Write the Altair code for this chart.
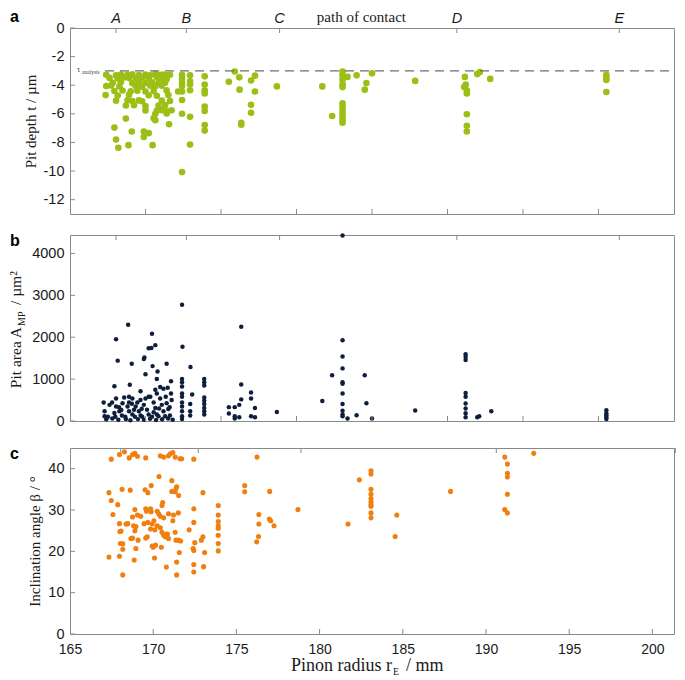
import altair as alt
import pandas as pd

# ---------------- data ----------------
# panel a: pit depth t (µm) vs pinion radius (mm)
depth_r = [
    167.40, 168.05, 168.37, 168.81, 169.13, 169.56, 170.00, 170.32, 170.65, 170.97, 171.19, 171.40, 171.62,
    167.62, 168.16, 168.59, 168.91, 169.35, 169.78, 170.21, 170.75, 171.08, 171.40,
    167.83, 168.37, 169.13, 169.56, 170.00, 170.43, 170.86, 171.30,
    167.40, 167.72, 168.27, 169.35, 169.78, 170.32, 170.65, 171.08,
    167.94, 168.48, 169.02, 169.46, 170.00, 170.54, 171.40,
    167.36, 168.16, 168.91, 170.21, 170.75, 171.51,
    168.05, 168.81, 169.13, 169.56, 169.78, 171.08, 171.62,
    168.70, 169.24, 170.00, 170.86, 171.30,
    170.00, 170.75, 171.08, 171.40, 171.73,
    170.65, 171.40, 168.70, 170.54, 170.65, 171.56, 167.94, 169.09, 169.89, 170.21, 169.89, 168.05, 168.87, 170.47, 168.20,
    172.42, 172.42, 172.42, 172.42, 172.42, 172.42, 172.42, 172.42, 172.16,
    172.95, 172.95, 172.95, 172.95, 172.95, 172.95,
    173.92, 173.92, 173.92, 173.92, 173.92, 173.92, 173.92, 173.92,
    175.52, 175.91, 176.21, 176.23, 176.34, 176.34, 176.99, 177.25, 177.25, 176.99, 176.99, 178.70,
    181.71, 182.36,
    183.05, 183.05, 183.05, 183.05, 183.05, 183.05, 183.05, 183.05, 183.05, 183.05, 183.05, 183.05,
    183.38, 183.98, 184.63, 184.52, 185.00, 187.86,
    191.15, 191.10, 191.21, 191.28, 191.28, 191.28, 191.28, 191.28, 191.97, 192.14, 192.83,
    200.52, 200.52, 200.52, 200.52,
]
depth_t = [
    -3.27, -3.30, -3.25, -3.28, -3.24, -3.29, -3.26, -3.31, -3.22, -3.28, -3.25, -3.30, -3.27,
    -3.49, -3.52, -3.46, -3.50, -3.55, -3.47, -3.51, -3.45, -3.53, -3.58,
    -3.83, -3.80, -3.86, -3.81, -3.85, -3.79, -3.84, -3.82,
    -4.06, -4.02, -4.08, -4.05, -4.10, -4.04, -4.07, -4.03,
    -4.40, -4.37, -4.42, -4.38, -4.44, -4.41, -4.36,
    -4.69, -4.72, -4.66, -4.70, -4.74, -4.68,
    -5.08, -5.05, -5.11, -5.06, -5.12, -5.07, -5.10,
    -5.42, -5.40, -5.45, -5.43, -5.39,
    -5.76, -5.78, -5.74, -5.80, -5.75,
    -5.99, -5.97, -6.33, -6.30, -6.44, -6.73, -6.96, -7.23, -7.23, -7.35, -7.62, -7.80, -8.19, -8.19, -8.37,
    -3.27, -3.54, -3.83, -4.06, -4.44, -5.03, -5.99, -10.07, -4.44,
    -3.31, -3.72, -3.95, -4.35, -6.21, -8.14,
    -3.38, -3.95, -4.35, -4.58, -5.49, -5.80, -6.78, -7.17,
    -3.76, -3.04, -3.45, -4.31, -6.62, -6.76, -3.67, -3.33, -4.44, -5.37, -5.92, -4.08,
    -4.08, -6.15,
    -3.04, -3.31, -3.61, -3.95, -4.13, -5.26, -5.49, -5.71, -5.99, -6.21, -6.44, -6.62,
    -3.42, -3.31, -3.85, -4.31, -3.17, -3.70,
    -3.42, -4.13, -3.95, -4.35, -4.58, -6.03, -6.83, -7.23, -3.22, -3.08, -3.56,
    -3.27, -3.45, -3.63, -4.47,
]

# panel b: pit area A_MP (µm²) vs pinion radius (mm)
area_r = [
    172.42, 168.85, 168.05, 170.43, 170.65, 170.21, 170.39, 172.45, 168.16, 169.09, 169.89, 169.93,
    171.40, 170.47, 170.80, 170.00, 172.98, 170.75,
    172.42, 172.42, 172.42, 172.42, 172.42, 172.42, 172.42, 172.42, 172.42, 172.42,
    173.89, 173.89, 173.89, 173.89, 173.89, 173.89, 173.89, 173.89, 173.89,
    167.94, 168.96, 169.67, 170.97, 171.47, 171.69, 170.65, 173.09, 172.96, 172.96, 172.96,
    167.23, 167.62, 167.29, 167.29, 168.05, 168.05, 167.94, 168.27, 168.48, 168.44, 168.81, 168.91,
    168.91, 169.13, 169.35, 169.46, 169.56, 169.67, 170.00, 169.89, 170.10, 170.21, 170.32, 170.54,
    170.65, 170.75, 170.97, 171.08, 171.19, 171.34, 171.40, 171.51, 171.62, 171.30, 170.86, 170.43,
    169.78, 169.30, 168.66, 168.00, 167.51, 167.79, 168.59, 169.13, 169.67, 171.73, 171.69, 170.75,
    171.19, 170.21, 169.24, 170.54, 168.91,
    167.40, 167.80, 168.20, 168.70, 169.00, 169.50, 169.90, 170.30, 170.70, 171.10, 171.50, 171.80,
    168.40, 169.75, 170.90, 171.60, 168.25, 169.10,
    175.52, 175.52, 175.91, 175.91, 175.91, 176.21, 176.21, 176.34, 176.34, 176.34,
    176.99, 176.99, 176.99, 177.25, 177.25, 178.70,
    181.71, 182.36,
    183.05, 183.05, 183.05, 183.05, 183.05, 183.05, 183.05, 183.05, 183.05, 183.05, 183.05,
    183.38, 183.98, 184.52, 184.63, 185.00, 187.86,
    191.20, 191.20, 191.20, 191.20, 191.20, 191.20, 191.20, 191.20, 191.20, 191.97, 192.10, 192.90,
    200.52, 200.52, 200.52, 200.52, 200.52,
]
area_a = [
    2775, 2297, 1950, 2081, 1811, 1734, 1740, 1773, 1441, 1364, 1480, 1518,
    1364, 1310, 1179, 1117, 1287, 1002,
    1002, 925, 825, 655, 578, 439, 347, 231, 116, 50,
    1002, 925, 848, 563, 486, 408, 308, 231, 154,
    832, 863, 709, 809, 794, 948, 748, 632, 408, 231, 131,
    439, 385, 231, 116, 539, 347, 193, 231, 424, 131, 347, 439,
    231, 154, 347, 439, 231, 131, 539, 385, 270, 154, 578, 439,
    308, 154, 539, 385, 231, 578, 424, 285, 131, 116, 116, 100,
    100, 100, 100, 100, 100, 439, 563, 539, 501, 501, 655, 655,
    771, 578, 270, 208, 578,
    40, 60, 30, 50, 20, 45, 30, 55, 25, 40, 60, 30,
    260, 290, 300, 330, 330, 410,
    331, 177, 331, 116, 62, 92, 385, 2250, 871, 516,
    678, 539, 116, 308, 92, 216,
    478, 1094,
    4430, 1927, 1541, 1256, 925, 890, 655, 408, 247, 154, 116,
    62, 139, 1094, 424, 62, 250,
    1595, 1526, 1457, 670, 578, 416, 300, 185, 92, 92, 116, 231,
    254, 185, 139, 92, 46,
]

# panel c: inclination angle beta (°) vs pinion radius (mm)
angle_r = [
    167.48, 167.97, 168.27, 168.56, 168.76, 168.90, 169.05, 169.55, 170.43, 170.63, 170.92, 171.02,
    171.18, 171.32, 171.61, 171.71, 172.44, 176.24,
    167.34, 167.48, 167.87, 167.58, 168.13, 168.62, 169.51, 169.68, 169.88, 170.35, 171.12, 171.41,
    171.37, 171.12, 171.32, 171.53, 172.99, 170.57, 170.53,
    168.90, 169.05, 169.25, 168.76,
    169.55, 169.60, 169.84, 169.88, 170.24, 170.33, 170.43, 170.63, 170.92, 171.22, 171.51,
    169.45, 169.68, 169.94, 170.04,
    167.97, 168.37, 168.47, 168.82, 168.96, 168.90, 168.07, 168.00,
    168.66, 168.76, 169.09, 168.03, 168.17, 168.17,
    167.34, 167.97, 168.86, 168.96, 168.17,
    169.64, 169.55, 169.94, 170.00, 170.14, 170.08,
    169.84, 170.10, 170.24, 170.43, 170.53, 170.63, 170.73, 170.82, 170.92, 170.86, 170.49, 170.79,
    171.18, 171.32, 171.37, 171.51, 171.65, 171.41, 171.41, 171.57, 172.16,
    172.44, 172.44, 172.50, 172.40, 172.44, 172.44, 172.44,
    172.89, 172.99, 173.03, 173.09,
    173.91, 173.91, 173.91, 173.91, 173.91, 173.91, 173.91, 173.91,
    175.50, 175.50, 177.00, 176.35, 176.35, 176.33, 176.22, 176.98, 177.06, 177.26, 178.70,
    181.71, 182.39,
    183.09, 183.09, 183.09, 183.09, 183.09, 183.09, 183.09, 183.09, 183.09, 183.09,
    184.64, 184.54, 187.87,
    191.13, 191.29, 191.29, 191.29, 191.29, 191.13, 191.29, 192.87,
]
angle_b = [
    42.3, 43.4, 44.1, 42.6, 43.4, 43.7, 43.0, 42.6, 43.1, 42.8, 43.1, 43.6,
    43.9, 42.8, 42.4, 42.4, 42.3, 42.8,
    34.2, 32.3, 31.3, 28.9, 35.0, 34.8, 34.9, 34.2, 35.9, 38.1, 37.1, 35.6,
    35.2, 34.5, 34.4, 33.5, 34.2, 31.8, 31.1,
    30.1, 28.8, 28.5, 28.3,
    30.3, 29.7, 30.3, 29.6, 29.7, 29.1, 28.5, 28.1, 29.1, 28.8, 29.3,
    26.7, 27.0, 26.6, 27.4,
    26.7, 26.6, 26.7, 26.2, 26.0, 25.0, 24.9, 24.8,
    23.1, 23.2, 22.7, 21.9, 21.8, 20.5,
    18.6, 18.8, 17.9, 20.7, 14.3,
    23.5, 23.2, 21.3, 21.0, 21.5, 18.4,
    25.4, 25.2, 26.2, 25.7, 24.6, 23.9, 23.5, 24.2, 23.1, 24.1, 21.0, 16.2,
    27.4, 24.6, 22.7, 22.7, 22.5, 17.4, 14.3, 19.7, 25.2,
    30.3, 27.0, 22.1, 20.7, 20.2, 16.8, 15.0,
    22.7, 23.5, 16.3, 19.7,
    31.1, 28.8, 27.2, 26.2, 25.6, 23.9, 21.9, 20.1,
    35.9, 34.4, 34.5, 28.9, 26.6, 23.6, 22.3, 27.8, 27.4, 26.2, 30.1,
    26.6, 37.3,
    39.5, 38.7, 35.0, 33.8, 32.8, 32.0, 31.4, 30.9, 29.3, 28.1,
    28.8, 23.6, 34.5,
    42.8, 41.1, 38.9, 38.0, 33.8, 30.1, 29.3, 43.7,
]

# path-of-contact points (top markers)
contact_labels = ["A", "B", "C", "D", "E"]
contact_r = [168.05, 172.71, 178.88, 190.62, 201.38]
contact_title = ["path of contact"]
contact_title_r = [184.3]

# tick values
r_ticks_inner = [170, 175, 180, 185, 190, 195, 200]
r_ticks_labels = [165, 170, 175, 180, 185, 190, 195, 200]
t_ticks = [0, -2, -4, -6, -8, -10, -12]
a_ticks = [0, 1000, 2000, 3000, 4000]
b_ticks = [0, 10, 20, 30, 40]
t_analysis = [-3.0]

# ---------------- styling ----------------
W = 604
H = 186
GRAY = "#8a8a8a"
INK = "#1a1a1a"
SANS = "Liberation Sans"
SERIF = "Liberation Serif"
GREEN = "#9cbf16"
NAVY = "#0d1f3c"
ORANGE = "#f07f10"


def yaxis(values, title):
    kw = dict(values=values, ticks=False, domain=False, grid=False, labelFlush=False,
              labelExpr="'' + datum.value", labelFont=SANS, labelFontSize=14.5,
              labelColor=INK, labelPadding=6)
    if title is None:
        kw["title"] = None
    else:
        kw.update(title=title, titleFont=SERIF, titleFontSize=15,
                  titleFontWeight="normal", titleColor=INK, titlePadding=5)
    return alt.Axis(**kw)


def tick_layers(xs, xax, ys, yax, bottom_vals, y_vals):
    bt = alt.Chart(pd.DataFrame({"r": bottom_vals})).mark_rule(color=GRAY).encode(
        x=alt.X("r:Q", scale=xs, axis=xax), y=alt.value(H), y2=alt.value(H - 5))
    tt = alt.Chart(pd.DataFrame({"r": contact_r})).mark_rule(color=GRAY).encode(
        x=alt.X("r:Q", scale=xs, axis=xax), y=alt.value(0), y2=alt.value(5))
    lt = alt.Chart(pd.DataFrame({"v": y_vals})).mark_rule(color=GRAY).encode(
        y=alt.Y("v:Q", scale=ys, axis=yax), x=alt.value(0), x2=alt.value(5))
    return [bt, tt, lt]


def panel_letter(ch, ypos):
    return alt.Chart(pd.DataFrame({"t": [ch]})).mark_text(
        font=SANS, fontSize=16, fontWeight="bold", align="left", baseline="alphabetic", color="#000"
    ).encode(x=alt.value(-60), y=alt.value(ypos), text="t:N")


# ---------- panel a ----------
xs_ab = alt.Scale(domain=[165, 205], nice=False, zero=False)
ys_a = alt.Scale(domain=[-13, 0], nice=False, zero=False)
ax_ya = yaxis(t_ticks, "Pit depth t / µm")
df_a = pd.DataFrame({"r": depth_r, "v": depth_t})

pts_a = alt.Chart(df_a).mark_circle(size=44, color=GREEN, opacity=1).encode(
    x=alt.X("r:Q", scale=xs_ab, axis=None),
    y=alt.Y("v:Q", scale=ys_a, axis=ax_ya),
)
dash_a = alt.Chart(pd.DataFrame({"v": t_analysis})).mark_rule(
    color="#6e6e6e", strokeDash=[9, 6], strokeWidth=1.2
).encode(y=alt.Y("v:Q", scale=ys_a, axis=ax_ya), x=alt.value(35), x2=alt.value(W))
tau_a = alt.Chart(pd.DataFrame({"v": t_analysis, "t": ["τ"]})).mark_text(
    font=SERIF, fontSize=8, align="left", baseline="alphabetic", color="#444", dy=1
).encode(y=alt.Y("v:Q", scale=ys_a, axis=ax_ya), x=alt.value(7), text="t:N")
tau_sub = alt.Chart(pd.DataFrame({"v": t_analysis, "t": ["analysis"]})).mark_text(
    font=SERIF, fontSize=5.5, align="left", baseline="alphabetic", color="#444", dy=3
).encode(y=alt.Y("v:Q", scale=ys_a, axis=ax_ya), x=alt.value(12), text="t:N")
letters_a = alt.Chart(pd.DataFrame({"r": contact_r, "t": contact_labels})).mark_text(
    font=SANS, fontSize=14.5, fontStyle="italic", align="center", baseline="alphabetic", color=INK
).encode(x=alt.X("r:Q", scale=xs_ab, axis=None), y=alt.value(-5), text="t:N")
poc_a = alt.Chart(pd.DataFrame({"r": contact_title_r, "t": contact_title})).mark_text(
    font=SERIF, fontSize=15, align="center", baseline="alphabetic", color=INK
).encode(x=alt.X("r:Q", scale=xs_ab, axis=None), y=alt.value(-6), text="t:N")

panel_a = alt.layer(
    pts_a,
    *tick_layers(xs_ab, None, ys_a, ax_ya, r_ticks_inner, t_ticks),
    dash_a, tau_a, tau_sub, letters_a, poc_a, panel_letter("a", -6),
).properties(width=W, height=H)

# ---------- panel b ----------
ys_b = alt.Scale(domain=[0, 4440], nice=False, zero=False)
ax_yb = yaxis(a_ticks, None)
df_b = pd.DataFrame({"r": area_r, "v": area_a})
pts_b = alt.Chart(df_b).mark_circle(size=20, color=NAVY, opacity=1).encode(
    x=alt.X("r:Q", scale=xs_ab, axis=None),
    y=alt.Y("v:Q", scale=ys_b, axis=ax_yb),
)
yj = 92
tb1 = alt.Chart(pd.DataFrame({"t": ["Pit area A"]})).mark_text(
    font=SERIF, fontSize=15.5, angle=270, align="right", baseline="alphabetic", color=INK
).encode(x=alt.value(-49), y=alt.value(yj), text="t:N")
tb2 = alt.Chart(pd.DataFrame({"t": ["MP"]})).mark_text(
    font=SERIF, fontSize=10, angle=270, align="left", baseline="alphabetic", color=INK, dy=4
).encode(x=alt.value(-49), y=alt.value(yj - 1), text="t:N")
tb3 = alt.Chart(pd.DataFrame({"t": ["/ µm²"]})).mark_text(
    font=SERIF, fontSize=15.5, angle=270, align="left", baseline="alphabetic", color=INK
).encode(x=alt.value(-49), y=alt.value(yj - 22), text="t:N")

panel_b = alt.layer(
    pts_b,
    *tick_layers(xs_ab, None, ys_b, ax_yb, r_ticks_inner, a_ticks),
    tb1, tb2, tb3, panel_letter("b", 11),
).properties(width=W, height=H)

# ---------- panel c ----------
xs_c = alt.Scale(domain=[165, 201.3], nice=False, zero=False)
ys_c = alt.Scale(domain=[0, 45], nice=False, zero=False)
ax_yc = yaxis(b_ticks, "Inclination angle β / °")
ax_xc = alt.Axis(values=r_ticks_labels, ticks=False, domain=False, grid=False, labelFlush=False,
                 labelExpr="'' + datum.value", labelFont=SANS, labelFontSize=14,
                 labelColor=INK, labelPadding=8, title=None)
df_c = pd.DataFrame({"r": angle_r, "v": angle_b})
pts_c = alt.Chart(df_c).mark_circle(size=26, color=ORANGE, opacity=1).encode(
    x=alt.X("r:Q", scale=xs_c, axis=ax_xc),
    y=alt.Y("v:Q", scale=ys_c, axis=ax_yc),
)
xj = 322
tx1 = alt.Chart(pd.DataFrame({"t": ["Pinon radius r"]})).mark_text(
    font=SERIF, fontSize=18, align="right", baseline="alphabetic", color=INK
).encode(x=alt.value(xj), y=alt.value(H + 37), text="t:N")
tx2 = alt.Chart(pd.DataFrame({"t": ["E"]})).mark_text(
    font=SERIF, fontSize=10, align="left", baseline="alphabetic", color=INK, dy=4
).encode(x=alt.value(xj + 1), y=alt.value(H + 37), text="t:N")
tx3 = alt.Chart(pd.DataFrame({"t": ["/ mm"]})).mark_text(
    font=SERIF, fontSize=18, align="left", baseline="alphabetic", color=INK
).encode(x=alt.value(xj + 14), y=alt.value(H + 37), text="t:N")

panel_c = alt.layer(
    pts_c,
    *tick_layers(xs_c, ax_xc, ys_c, ax_yc, r_ticks_inner, b_ticks),
    tx1, tx2, tx3, panel_letter("c", 11),
).properties(width=W, height=H)

chart = alt.vconcat(panel_a, panel_b, panel_c, spacing=17).properties(
    padding={"left": 0, "right": 0, "top": 0, "bottom": 0}
).configure_view(stroke=GRAY, strokeWidth=1)

chart.save("out.html", embed_options={"renderer": "svg", "actions": False})
